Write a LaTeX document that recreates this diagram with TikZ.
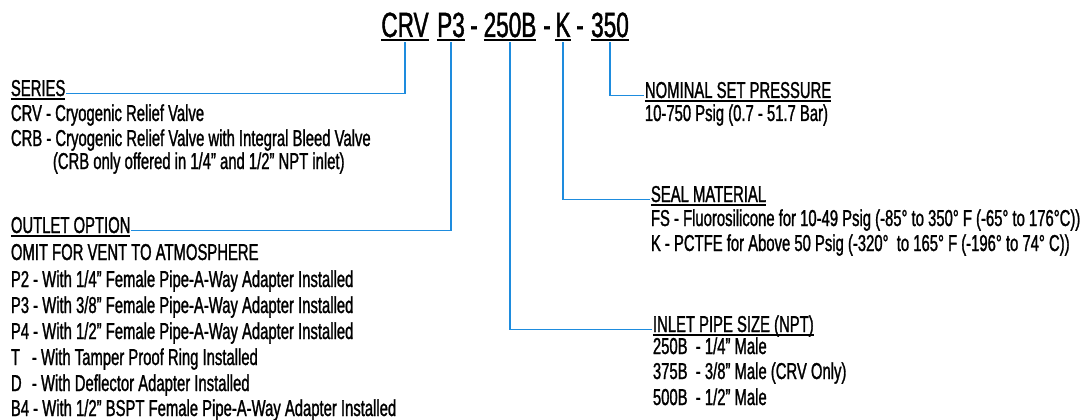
\documentclass[tikz,border=0pt]{standalone}
\usepackage{fontspec}
\setmainfont[FakeStretch=0.645,FakeBold=1.2]{Liberation Sans}
\definecolor{lineblue}{RGB}{30,140,222}
\newcommand\ulhead[1]{\setbox0\hbox{#1}\rlap{\rule[-3.5pt]{\wd0}{2pt}}\box0}
\newcommand\ultitle[1]{\setbox0\hbox{#1}\rlap{\rule[-4.5pt]{\wd0}{2.6pt}}\box0}
\newcommand\tab[1]{\makebox[21pt][l]{#1}}
\begin{document}
\begin{tikzpicture}[x=1pt,y=1pt,yscale=-1,xscale=1,
  txt/.style={anchor=base west,inner sep=0.75pt,font=\fontsize{23}{26}\selectfont},
  ttl/.style={anchor=base,inner sep=0.75pt,font=\fontsize{35}{38}\selectfont},
  conn/.style={draw=lineblue,line width=1.6pt}]
\useasboundingbox (0,0) rectangle (1082,420);

% Title parts
\node[ttl] (crv) at (405,37) {\ultitle{CRV}};
\node[ttl] (p3) at (451,37) {\ultitle{P3}};
\node[ttl] (dasha) at (474,37) {-};
\node[ttl] (b250) at (510,37) {\ultitle{250B}};
\node[ttl] (dashb) at (547,37) {-};
\node[ttl] (k) at (563,37) {\ultitle{K}};
\node[ttl] (dashc) at (580,37) {-};
\node[ttl] (p350) at (610,37) {\ultitle{350}};

% Text Node
\node[txt] (series) at (10,96) {\ulhead{SERIES}};
\node[txt] (crvline) at (10,121) {CRV - Cryogenic Relief Valve};
\node[txt] (crbline) at (10,146) {CRB - Cryogenic Relief Valve with Integral Bleed Valve};
\node[txt] (crbnote) at (52,169) {(CRB only offered in 1/4" and 1/2" NPT inlet)};

% Text Node
\node[txt] (outlet) at (10,233) {\ulhead{OUTLET OPTION}};
\node[txt] (omit) at (10,260) {OMIT FOR VENT TO ATMOSPHERE};
\node[txt] (optp2) at (10,287) {P2 - With 1/4" Female Pipe-A-Way Adapter Installed};
\node[txt] (optp3) at (10,313) {P3 - With 3/8" Female Pipe-A-Way Adapter Installed};
\node[txt] (optp4) at (10,339) {P4 - With 1/2" Female Pipe-A-Way Adapter Installed};
\node[txt] (optt) at (10,365) {\tab{T}- With Tamper Proof Ring Installed};
\node[txt] (optd) at (10,391) {\tab{D}- With Deflector Adapter Installed};
\node[txt] (optb4) at (10,416) {B4 - With 1/2" BSPT Female Pipe-A-Way Adapter Installed};

% Text Node
\node[txt] (nominal) at (644,98) {\ulhead{NOMINAL SET PRESSURE}};
\node[txt] (range) at (644,121) {10-750 Psig (0.7 - 51.7 Bar)};

% Text Node
\node[txt] (seal) at (650,202) {\ulhead{SEAL MATERIAL}};
\node[txt] (sealfs) at (650,226) {FS - Fluorosilicone for 10-49 Psig (-85° to 350° F (-65° to 176°C))};
\node[txt] (sealk) at (650,251) {K - PCTFE for Above 50 Psig (-320°\ \ to 165° F (-196° to 74° C))};

% Text Node
\node[txt] (inlet) at (652,332) {\ulhead{INLET PIPE SIZE (NPT)}};
\node[txt] (in250) at (652,354) {250B\ \ - 1/4" Male};
\node[txt] (in375) at (652,379) {375B\ \ - 3/8" Male (CRV Only)};
\node[txt] (in500) at (652,405) {500B\ \ - 1/2" Male};

% Connectors
\draw[conn] (crv.south) |- (series.mid east);
\draw[conn] (p3.south) |- (outlet.mid east);
\draw[conn] (b250.south) |- (inlet.mid west);
\draw[conn] (k.south) |- (seal.mid west);
\draw[conn] (p350.south) |- (nominal.mid west);
\end{tikzpicture}
\end{document}
